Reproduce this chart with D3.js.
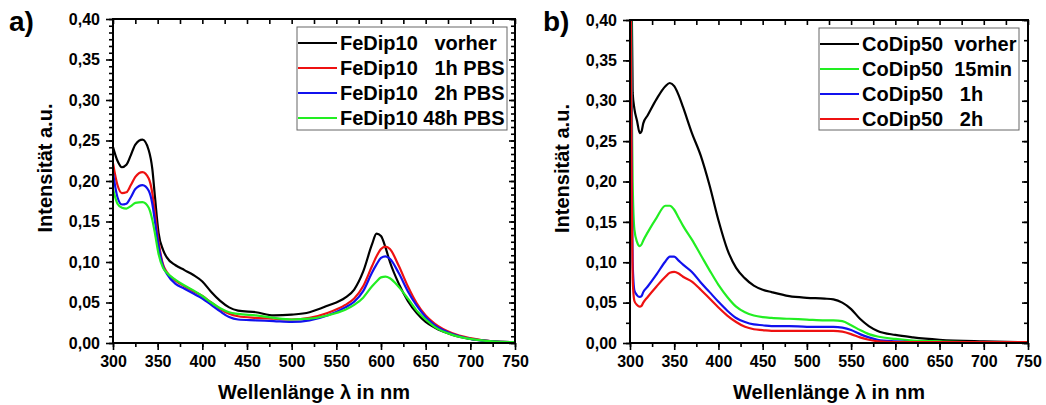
<!DOCTYPE html>
<html>
<head>
  <meta charset="utf-8">
  <title>FeDip10 / CoDip50 Spektren</title>
  <script src="https://d3js.org/d3.v7.min.js"></script>
  <style>
    body { margin: 0; background: #fff; font-family: "Liberation Sans", Arial, sans-serif; }
    svg text { font-family: "Liberation Sans", Arial, sans-serif; font-weight: bold; fill: #000; }
    .tick text { font-size: 16px; }
    .tick line { stroke: #000; stroke-width: 1.6; }
    .axis-title { font-size: 20px; text-anchor: middle; }
    .panel-label { font-size: 28px; }
    .legend text { font-size: 20px; white-space: pre; }
    .curve { fill: none; stroke-width: 2.2; stroke-linejoin: round; }
  </style>
</head>
<body>
  <div id="chart"></div>
  <script>
    // ---- data: panel a (FeDip10) ----
    const waveA = [300, 305, 310, 315, 320, 325, 333, 340, 344, 347, 351, 356, 360, 370, 380, 390, 400, 410, 420, 430, 440, 460, 480, 500, 520, 540, 560, 570, 580, 590, 595, 600, 605, 610, 620, 630, 640, 650, 660, 680, 700, 725, 750];
    const feVorher = [0.242, 0.225, 0.217, 0.220, 0.232, 0.245, 0.251, 0.238, 0.215, 0.180, 0.136, 0.115, 0.106, 0.096, 0.090, 0.084, 0.076, 0.063, 0.052, 0.044, 0.040, 0.038, 0.034, 0.035, 0.038, 0.046, 0.056, 0.066, 0.088, 0.122, 0.135, 0.132, 0.118, 0.100, 0.073, 0.052, 0.037, 0.026, 0.019, 0.010, 0.005, 0.002, 0.001];
    const fe1h = [0.222, 0.195, 0.185, 0.186, 0.195, 0.205, 0.211, 0.203, 0.185, 0.160, 0.125, 0.097, 0.088, 0.077, 0.070, 0.064, 0.058, 0.050, 0.042, 0.036, 0.033, 0.031, 0.030, 0.029, 0.031, 0.037, 0.047, 0.055, 0.070, 0.095, 0.107, 0.116, 0.119, 0.116, 0.095, 0.070, 0.049, 0.034, 0.024, 0.012, 0.006, 0.002, 0.001];
    const fe2h = [0.210, 0.180, 0.171, 0.172, 0.180, 0.190, 0.195, 0.188, 0.172, 0.150, 0.120, 0.095, 0.086, 0.073, 0.067, 0.061, 0.055, 0.047, 0.039, 0.032, 0.029, 0.028, 0.027, 0.026, 0.028, 0.034, 0.044, 0.051, 0.064, 0.087, 0.097, 0.105, 0.107, 0.104, 0.086, 0.064, 0.046, 0.032, 0.022, 0.011, 0.005, 0.002, 0.001];
    const fe48h = [0.190, 0.172, 0.167, 0.166, 0.169, 0.173, 0.174, 0.167, 0.152, 0.135, 0.110, 0.093, 0.087, 0.078, 0.071, 0.065, 0.058, 0.050, 0.043, 0.038, 0.036, 0.034, 0.031, 0.029, 0.030, 0.034, 0.041, 0.047, 0.056, 0.070, 0.076, 0.081, 0.082, 0.080, 0.069, 0.055, 0.040, 0.029, 0.020, 0.010, 0.005, 0.002, 0.001];
    const legendA = ["FeDip10   vorher", "FeDip10   1h PBS", "FeDip10   2h PBS", "FeDip10 48h PBS"];

    // ---- data: panel b (CoDip50) ----
    const waveB = [300, 301, 302, 303, 305, 308, 311, 313, 315, 320, 330, 340, 345, 350, 355, 360, 370, 380, 390, 400, 410, 420, 430, 440, 450, 460, 480, 500, 520, 530, 540, 550, 560, 570, 580, 600, 620, 650, 700, 750];
    const coVorher = [0.90, 0.60, 0.42, 0.31, 0.290, 0.275, 0.260, 0.262, 0.272, 0.282, 0.302, 0.318, 0.322, 0.318, 0.307, 0.292, 0.260, 0.232, 0.195, 0.152, 0.116, 0.093, 0.080, 0.071, 0.066, 0.063, 0.058, 0.056, 0.055, 0.054, 0.050, 0.042, 0.030, 0.021, 0.015, 0.010, 0.007, 0.004, 0.002, 0.001];
    const co15min = [0.90, 0.50, 0.30, 0.20, 0.140, 0.125, 0.120, 0.122, 0.127, 0.137, 0.155, 0.170, 0.170, 0.165, 0.155, 0.145, 0.128, 0.109, 0.090, 0.072, 0.057, 0.045, 0.038, 0.034, 0.032, 0.031, 0.030, 0.029, 0.028, 0.028, 0.027, 0.022, 0.016, 0.011, 0.008, 0.005, 0.003, 0.002, 0.001, 0.001];
    const co1h = [0.90, 0.45, 0.20, 0.10, 0.065, 0.059, 0.057, 0.058, 0.063, 0.070, 0.085, 0.101, 0.107, 0.107, 0.102, 0.097, 0.088, 0.075, 0.063, 0.051, 0.040, 0.031, 0.026, 0.023, 0.022, 0.021, 0.021, 0.020, 0.020, 0.020, 0.019, 0.016, 0.011, 0.007, 0.004, 0.002, 0.001, 0.001, 0.001, 0.001];
    const co2h = [0.90, 0.40, 0.17, 0.08, 0.052, 0.047, 0.045, 0.046, 0.050, 0.057, 0.070, 0.082, 0.087, 0.088, 0.086, 0.082, 0.076, 0.066, 0.055, 0.044, 0.034, 0.026, 0.020, 0.017, 0.016, 0.015, 0.015, 0.015, 0.015, 0.015, 0.014, 0.011, 0.007, 0.004, 0.002, 0.001, 0.001, 0.001, 0.001, 0.001];
    const legendB = ["CoDip50  vorher", "CoDip50  15min", "CoDip50   1h", "CoDip50   2h"];

    const xTicks = [300, 350, 400, 450, 500, 550, 600, 650, 700, 750];
    const yTicks = [0, 0.05, 0.10, 0.15, 0.20, 0.25, 0.30, 0.35, 0.40];

    const fmt = d => d3.format(".2f")(d).replace(".", ",");

    const svg = d3.select("#chart").append("svg")
      .attr("width", 1046)
      .attr("height", 405);

    function drawPanel(p) {
      const x = d3.scaleLinear().domain([300, 750]).range([p.left, p.right]);
      const y = d3.scaleLinear().domain([0, 0.4]).range([p.bottom, p.top]);
      const g = svg.append("g");

      // clip for the curves
      g.append("clipPath").attr("id", p.id + "clip")
        .append("rect")
          .attr("x", p.left).attr("y", p.top)
          .attr("width", p.right - p.left).attr("height", p.bottom - p.top);

      const noDomain = s => s.select(".domain").remove();
      const minorX = d3.range(300, 751, 25);

      // bottom: minor then major
      g.append("g").attr("transform", `translate(0,${p.bottom})`)
        .call(d3.axisBottom(x).tickValues(minorX).tickSize(4).tickFormat(""))
        .call(noDomain);
      g.append("g").attr("transform", `translate(0,${p.bottom})`)
        .call(d3.axisBottom(x).tickValues(xTicks).tickSize(7).tickPadding(6).tickFormat(d3.format("d")))
        .call(noDomain);
      // top: inward
      g.append("g").attr("transform", `translate(0,${p.top})`)
        .call(d3.axisTop(x).tickValues(minorX).tickSize(-5).tickFormat(""))
        .call(noDomain);
      // left: minor then major
      g.append("g").attr("transform", `translate(${p.left},0)`)
        .call(d3.axisLeft(y).tickValues(d3.range(0, 0.4001, 0.05 / p.ySub)).tickSize(4).tickFormat(""))
        .call(noDomain);
      g.append("g").attr("transform", `translate(${p.left},0)`)
        .call(d3.axisLeft(y).tickValues(yTicks).tickSize(7).tickPadding(6).tickFormat(fmt))
        .call(noDomain);
      // right: inward
      g.append("g").attr("transform", `translate(${p.right},0)`)
        .call(d3.axisRight(y).tickValues(d3.range(0, 0.4001, 0.05 / p.ySub)).tickSize(-4).tickFormat(""))
        .call(noDomain);
      g.append("g").attr("transform", `translate(${p.right},0)`)
        .call(d3.axisRight(y).tickValues(yTicks).tickSize(-6).tickFormat(""))
        .call(noDomain);

      // curves
      const line = d3.line()
        .x((d, i) => x(p.wave[i]))
        .y(d => y(d))
        .curve(d3.curveMonotoneX);
      g.append("g").attr("clip-path", `url(#${p.id}clip)`)
        .selectAll("path")
        .data(p.series)
        .join("path")
          .attr("class", "curve")
          .attr("stroke", d => d.color)
          .attr("d", d => line(d.values));

      // frame
      g.append("rect")
        .attr("x", p.left).attr("y", p.top)
        .attr("width", p.right - p.left).attr("height", p.bottom - p.top)
        .attr("fill", "none").attr("stroke", "#000").attr("stroke-width", 2);

      // legend
      const lg = g.append("g").attr("class", "legend");
      lg.append("rect")
        .attr("x", p.legend.x).attr("y", p.legend.y)
        .attr("width", p.legend.w).attr("height", p.legend.h)
        .attr("fill", "#fff").attr("stroke", "#666").attr("stroke-width", 1);
      const rows = lg.selectAll(".row").data(p.series).join("g")
        .attr("class", "row")
        .attr("transform", (d, i) => `translate(${p.legend.x},${p.legend.y + 16 + i * 25})`);
      rows.append("line")
        .attr("x1", 1).attr("x2", 40)
        .attr("stroke", d => d.color).attr("stroke-width", 2);
      rows.append("text")
        .attr("x", 43).attr("y", 7)
        .text(d => d.label);

      // titles
      g.append("text").attr("class", "axis-title")
        .attr("x", (p.left + p.right) / 2).attr("y", 399)
        .text("Wellenlänge λ in nm");
      g.append("text").attr("class", "axis-title")
        .attr("transform", `translate(${p.left - 61},${(p.top + p.bottom) / 2 - 13}) rotate(-90)`)
        .text("Intensität a.u.");
      g.append("text").attr("class", "panel-label")
        .attr("x", p.labelX).attr("y", 31)
        .text(p.label);
    }

    const colorsA = ["#000000", "#ee1111", "#1111ee", "#22ee22"];
    const colorsB = ["#000000", "#22ee22", "#1111ee", "#ee1111"];

    drawPanel({
      id: "a", label: "a)", labelX: 9,
      left: 113, right: 515, top: 19, bottom: 343, ySub: 6,
      wave: waveA,
      series: [feVorher, fe1h, fe2h, fe48h].map((v, i) => ({ values: v, color: colorsA[i], label: legendA[i] })),
      legend: { x: 297, y: 27, w: 210, h: 103 }
    });

    drawPanel({
      id: "b", label: "b)", labelX: 543,
      left: 630, right: 1028, top: 20, bottom: 343, ySub: 2,
      wave: waveB,
      series: [coVorher, co15min, co1h, co2h].map((v, i) => ({ values: v, color: colorsB[i], label: legendB[i] })),
      legend: { x: 819, y: 28, w: 200, h: 102 }
    });
  </script>
</body>
</html>
